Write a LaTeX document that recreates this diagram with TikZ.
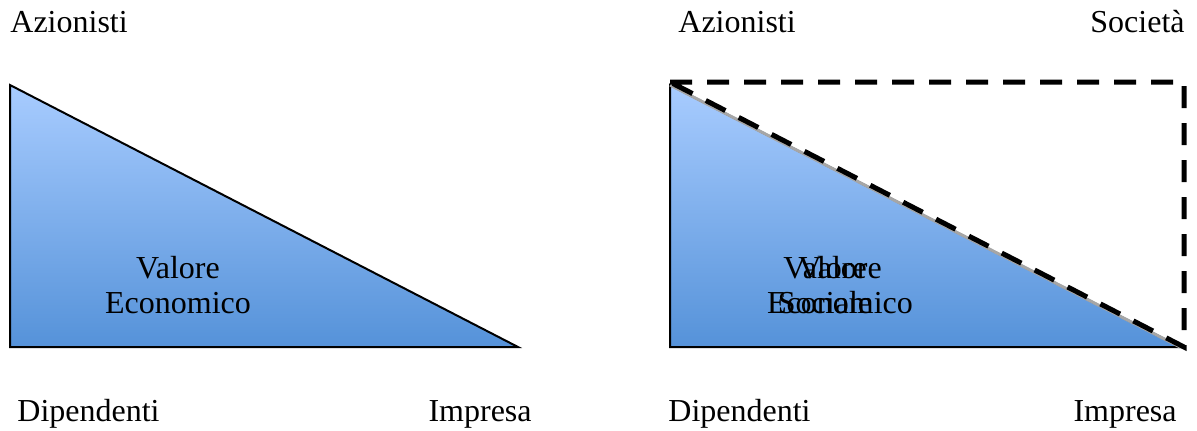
\documentclass[tikz,border=0pt]{standalone}
\usepackage{fontspec}
\setmainfont{Liberation Serif}
\usetikzlibrary{positioning}
\definecolor{valtop}{HTML}{A8CCFF}
\definecolor{valbot}{HTML}{5592D9}

\begin{document}
\begin{tikzpicture}[x=0.5pt,y=-0.5pt, every node/.style={font=\fontsize{16}{17.5}\selectfont,inner sep=0pt},
 tri/.style={draw=black,line width=1pt,top color=valtop,bottom color=valbot},
 dashline/.style={draw=black,line width=2.5pt,dash pattern=on 11pt off 7.5pt},
 lab/.style={align=center}]
\useasboundingbox (0,0) rectangle (1197,430);
% valore economico
\path[tri] (10,85) -- (10,347) -- (518,347) -- cycle;
\node[anchor=base west] (az1) at (10,32) {Azionisti};
\node[anchor=base west] (dip1) at (17,421) {Dipendenti};
\node[anchor=base east] (imp1) at (532,421) {Impresa};
\node[lab] (val1) at (178,285) {Valore\\Economico};
% valore sociale
\path[tri] (670,85) -- (670,347) -- (1180,347) -- cycle;
\draw[gray!70,line width=1.5pt] (670,85) -- (1180,347);
\draw[dashline] (670,82) -- (1184,82) -- (1184,347) -- (670,82);
\node[anchor=base west] (az2) at (678,32) {Azionisti};
\node[anchor=base east] (soc2) at (1185,32) {Società};
\node[anchor=base west] (dip2) at (668,421) {Dipendenti};
\node[anchor=base east] (imp2) at (1177,421) {Impresa};
\node[lab] (val2) at (840,285) {Valore\\Economico};
\node[lab] (soc) at (825,285) {Valore\\Sociale};
\end{tikzpicture}
\end{document}
